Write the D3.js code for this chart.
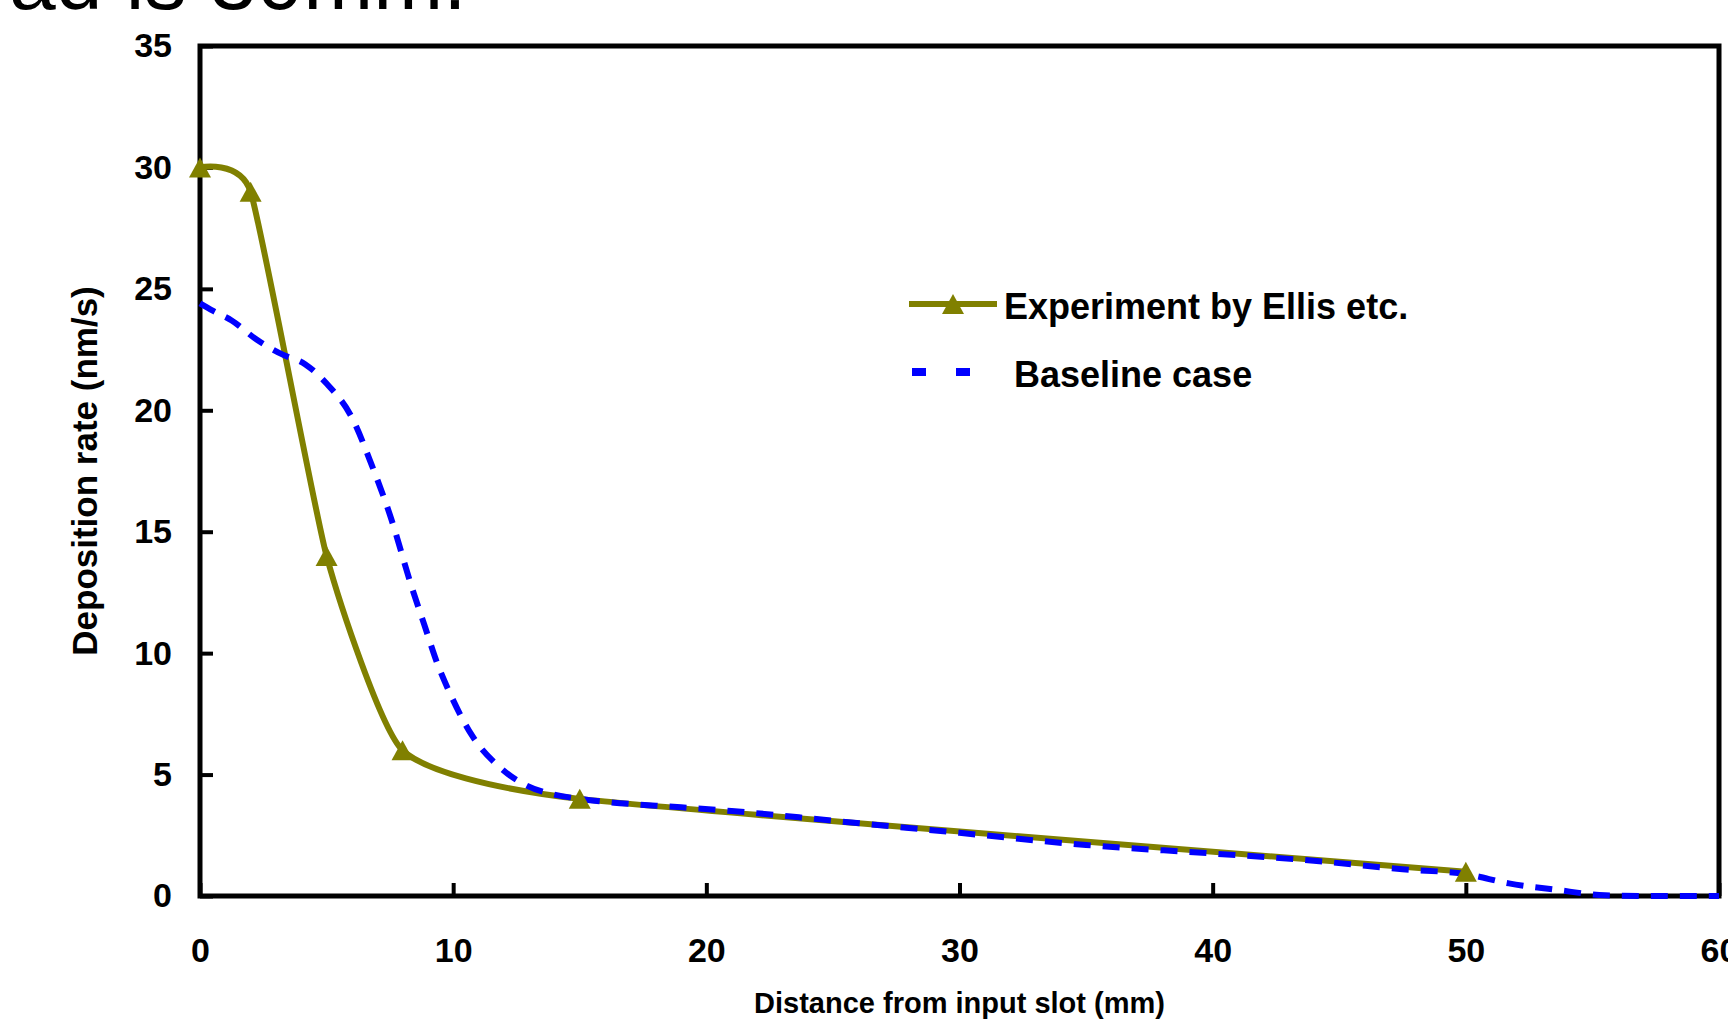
<!DOCTYPE html>
<html>
<head>
<meta charset="utf-8">
<script src="https://cdn.jsdelivr.net/npm/d3@7"></script>
<style>
  html, body { margin: 0; padding: 0; background: #fff; overflow: hidden; }
  text { font-family: "Liberation Sans", Arial, sans-serif; }
</style>
</head>
<body>
<svg id="chart" width="1728" height="1023"></svg>
<script>
// experiment (Ellis etc.) - markers + smoothed line
const expX = [0, 2, 5, 8, 15, 50];
const expY = [30, 29, 14, 6, 4, 1];

// baseline case simulation - dashed
const baseX = [0, 0.5, 1.25, 2.25, 3.25, 4.15, 5.0, 6.0, 6.8, 7.5, 8.4, 8.85, 9.4, 9.85, 10.75, 11.9, 12.9, 13.9, 15, 16, 19, 21, 25, 30, 35, 40, 44, 47.5, 50, 51.7, 53.6, 55.5, 57, 60];
const baseY = [24.4, 24.1, 23.7, 22.9, 22.3, 21.9, 21.1, 19.7, 17.7, 15.7, 12.6, 11.2, 9.5, 8.4, 6.6, 5.25, 4.55, 4.2, 4.0, 3.88, 3.65, 3.5, 3.1, 2.6, 2.1, 1.75, 1.45, 1.1, 0.9, 0.52, 0.25, 0.03, 0, 0];

const xTicks = [0, 10, 20, 30, 40, 50, 60];
const yTicks = [0, 5, 10, 15, 20, 25, 30, 35];
const seriesNames = ["Experiment by Ellis etc.", "Baseline case"];

const olive = "#808000";
const blue = "#0000ff";

const svg = d3.select("#chart");
const margin = { top: 46, right: 9, bottom: 127, left: 200 };
const W = 1728, H = 1023;

const x = d3.scaleLinear().domain([0, 60]).range([margin.left, W - margin.right]);
const y = d3.scaleLinear().domain([0, 35]).range([H - margin.bottom, margin.top]);

// cut-off title from the slide above
svg.append("text")
  .attr("x", 9)
  .attr("y", 9)
  .attr("font-size", 84)
  .attr("fill", "#000")
  .text("ad is 30mm.");

// x axis
const gx = svg.append("g")
  .attr("transform", `translate(0,${y(0)})`)
  .call(d3.axisBottom(x).tickValues(xTicks).tickSizeInner(-13).tickSizeOuter(0).tickPadding(42));
gx.select(".domain").remove();
gx.selectAll(".tick line").attr("stroke", "#000").attr("stroke-width", 4);
gx.selectAll(".tick text")
  .attr("font-size", 34).attr("font-weight", "bold").attr("fill", "#000")
  .style("font-family", "'Liberation Sans', Arial, sans-serif");

// y axis
const gy = svg.append("g")
  .attr("transform", `translate(${x(0)},0)`)
  .call(d3.axisLeft(y).tickValues(yTicks).tickSizeInner(-13).tickSizeOuter(0).tickPadding(28));
gy.select(".domain").remove();
gy.selectAll(".tick line").attr("stroke", "#000").attr("stroke-width", 4);
gy.selectAll(".tick text")
  .attr("font-size", 34).attr("font-weight", "bold").attr("fill", "#000")
  .style("font-family", "'Liberation Sans', Arial, sans-serif");

// frame
svg.append("rect")
  .attr("x", x(0)).attr("y", y(35))
  .attr("width", x(60) - x(0)).attr("height", y(0) - y(35))
  .attr("fill", "none").attr("stroke", "#000").attr("stroke-width", 5);

// axis titles
svg.append("text")
  .attr("x", (x(0) + x(60)) / 2)
  .attr("y", 1013)
  .attr("text-anchor", "middle")
  .attr("font-size", 29).attr("font-weight", "bold")
  .text("Distance from input slot (mm)");

svg.append("text")
  .attr("transform", `translate(97,${(y(0) + y(35)) / 2}) rotate(-90)`)
  .attr("text-anchor", "middle")
  .attr("font-size", 35).attr("font-weight", "bold")
  .text("Deposition rate (nm/s)");

// lines
const expData = expX.map((d, i) => [d, expY[i]]);
const baseData = baseX.map((d, i) => [d, baseY[i]]);

const expLine = d3.line()
  .x(d => x(d[0])).y(d => y(d[1]))
  .curve(d3.curveCardinal.tension(0.5));

const baseLine = d3.line()
  .x(d => x(d[0])).y(d => y(d[1]))
  .curve(d3.curveMonotoneX);

svg.append("path")
  .datum(expData)
  .attr("d", expLine)
  .attr("fill", "none")
  .attr("stroke", olive)
  .attr("stroke-width", 6);

svg.append("path")
  .datum(baseData)
  .attr("d", baseLine)
  .attr("fill", "none")
  .attr("stroke", blue)
  .attr("stroke-width", 6)
  .attr("stroke-dasharray", "17,12");

// triangle markers
const tri = (w, h) => `M0,${-h / 2}L${w / 2},${h / 2}L${-w / 2},${h / 2}Z`;
svg.append("g")
  .selectAll("path")
  .data(expData)
  .join("path")
  .attr("d", tri(22, 20))
  .attr("transform", d => `translate(${x(d[0])},${y(d[1])})`)
  .attr("fill", olive);

// legend
const lg = svg.append("g");
lg.append("line")
  .attr("x1", 909).attr("x2", 997).attr("y1", 304).attr("y2", 304)
  .attr("stroke", olive).attr("stroke-width", 6);
lg.append("path")
  .attr("d", tri(22, 20))
  .attr("transform", "translate(953,304)")
  .attr("fill", olive);
lg.append("text")
  .attr("x", 1004).attr("y", 319)
  .attr("font-size", 36).attr("font-weight", "bold")
  .text(seriesNames[0]);

lg.append("line")
  .attr("x1", 912).attr("x2", 972).attr("y1", 372).attr("y2", 372)
  .attr("stroke", blue).attr("stroke-width", 8)
  .attr("stroke-dasharray", "14,30");
lg.append("text")
  .attr("x", 1014).attr("y", 387)
  .attr("font-size", 36).attr("font-weight", "bold")
  .text(seriesNames[1]);
</script>
</body>
</html>
